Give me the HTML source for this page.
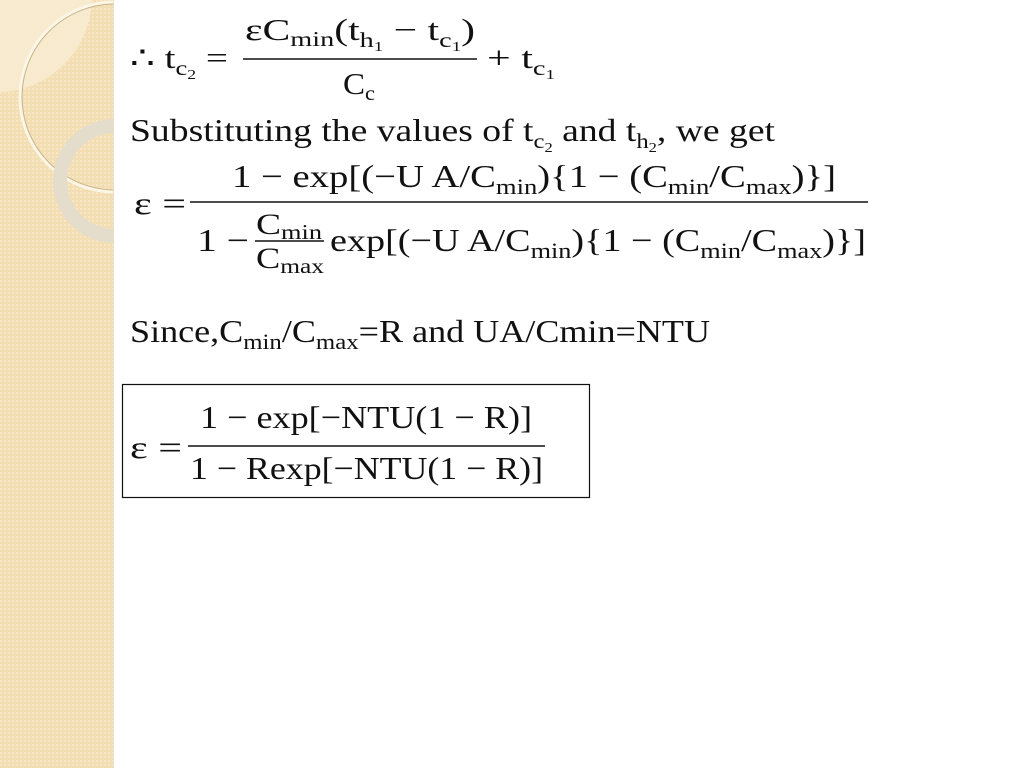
<!DOCTYPE html>
<html><head><meta charset="utf-8"><style>
html,body{margin:0;padding:0;background:#fff;}
svg{display:block;}
text{font-family:"Liberation Serif","DejaVu Serif",serif;fill:#111;}
</style></head><body>
<svg width="1024" height="768" viewBox="0 0 1024 768" xmlns="http://www.w3.org/2000/svg">
<defs>
<pattern id="dots" width="4" height="4" patternUnits="userSpaceOnUse">
<rect width="4" height="4" fill="#f3deb3"/><rect width="2" height="2" fill="#f7e7c6"/>
</pattern>
<clipPath id="strip"><rect x="0" y="0" width="113" height="768"/></clipPath>
</defs>
<rect x="0" y="0" width="113" height="768" fill="url(#dots)"/>
<g clip-path="url(#strip)">
<path d="M0 0 H92 A95 95 0 0 1 0 92 Z" fill="#f8ecd3" opacity="0.8"/>
<circle cx="115" cy="97" r="95" fill="none" stroke="#fbf6e6" stroke-width="3"/>
<circle cx="115" cy="97" r="93" fill="none" stroke="#c9b58e" stroke-width="1"/>
<circle cx="115" cy="181" r="55" fill="none" stroke="#e4ddcc" stroke-width="14"/>
</g>
<line x1="113.5" y1="0" x2="113.5" y2="768" stroke="#e6dcc8" stroke-width="1"/>

<!-- line 1 -->
<text x="130" y="68" font-size="31" textLength="98" lengthAdjust="spacingAndGlyphs">∴ t<tspan font-size="21" dy="7">c</tspan><tspan font-size="14" dy="4">2</tspan><tspan dy="-11"> =</tspan></text>
<text x="245" y="40" font-size="31" textLength="230" lengthAdjust="spacingAndGlyphs">εC<tspan font-size="21" dy="6">min</tspan><tspan dy="-6">(t</tspan><tspan font-size="21" dy="7">h</tspan><tspan font-size="14" dy="4">1</tspan><tspan dy="-11"> − t</tspan><tspan font-size="21" dy="7">c</tspan><tspan font-size="14" dy="4">1</tspan><tspan dy="-11">)</tspan></text>
<line x1="243" y1="59" x2="477" y2="59" stroke="#111" stroke-width="1.6"/>
<text x="343" y="94" font-size="31" textLength="32" lengthAdjust="spacingAndGlyphs">C<tspan font-size="21" dy="6">c</tspan></text>
<text x="487" y="68" font-size="31" textLength="68" lengthAdjust="spacingAndGlyphs">+ t<tspan font-size="21" dy="7">c</tspan><tspan font-size="14" dy="4">1</tspan></text>

<!-- line 2 -->
<text x="130" y="141" font-size="32" textLength="645" lengthAdjust="spacingAndGlyphs">Substituting the values of  t<tspan font-size="21" dy="7">c</tspan><tspan font-size="14" dy="4">2</tspan><tspan dy="-11"> and t</tspan><tspan font-size="21" dy="7">h</tspan><tspan font-size="14" dy="4">2</tspan><tspan dy="-11">, we get</tspan></text>

<!-- eq 3 -->
<text x="134" y="214" font-size="32" textLength="52" lengthAdjust="spacingAndGlyphs">ε =</text>
<text x="232" y="187" font-size="32" textLength="604" lengthAdjust="spacingAndGlyphs">1 − exp[(−U A/C<tspan font-size="22" dy="7">min</tspan><tspan dy="-7">){1 − (C</tspan><tspan font-size="22" dy="7">min</tspan><tspan dy="-7">/C</tspan><tspan font-size="22" dy="7">max</tspan><tspan dy="-7">)}]</tspan></text>
<line x1="190" y1="202" x2="868" y2="202" stroke="#111" stroke-width="1.6"/>
<text x="197" y="251" font-size="32" textLength="52" lengthAdjust="spacingAndGlyphs">1 −</text>
<text x="256" y="234" font-size="30" textLength="66" lengthAdjust="spacingAndGlyphs">C<tspan font-size="21" dy="5">min</tspan></text>
<line x1="255" y1="241" x2="324" y2="241" stroke="#111" stroke-width="1.4"/>
<text x="256" y="268" font-size="30" textLength="68" lengthAdjust="spacingAndGlyphs">C<tspan font-size="21" dy="5">max</tspan></text>
<text x="330" y="251" font-size="32" textLength="536" lengthAdjust="spacingAndGlyphs">exp[(−U A/C<tspan font-size="22" dy="7">min</tspan><tspan dy="-7">){1 − (C</tspan><tspan font-size="22" dy="7">min</tspan><tspan dy="-7">/C</tspan><tspan font-size="22" dy="7">max</tspan><tspan dy="-7">)}]</tspan></text>

<!-- since line -->
<text x="130" y="342" font-size="32" textLength="580" lengthAdjust="spacingAndGlyphs">Since,C<tspan font-size="22" dy="7">min</tspan><tspan dy="-7">/C</tspan><tspan font-size="22" dy="7">max</tspan><tspan dy="-7">=R and UA/Cmin=NTU</tspan></text>

<!-- boxed eq -->
<rect x="122.5" y="384.5" width="467" height="113" fill="none" stroke="#111" stroke-width="1.2"/>
<text x="130" y="458" font-size="32" textLength="52" lengthAdjust="spacingAndGlyphs">ε =</text>
<text x="200" y="428" font-size="32" textLength="332" lengthAdjust="spacingAndGlyphs">1 − exp[−NTU(1 − R)]</text>
<line x1="188" y1="446" x2="545" y2="446" stroke="#111" stroke-width="1.6"/>
<text x="190" y="479" font-size="32" textLength="353" lengthAdjust="spacingAndGlyphs">1 − Rexp[−NTU(1 − R)]</text>
</svg>
</body></html>
